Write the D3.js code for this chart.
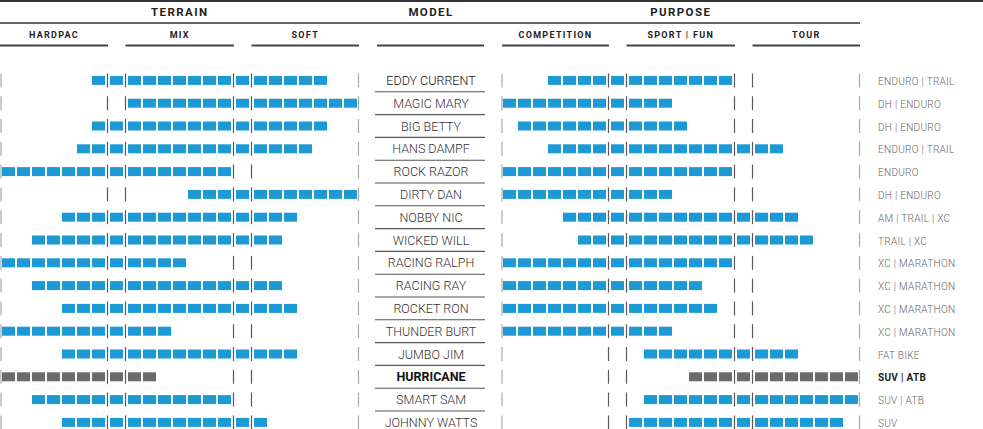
<!DOCTYPE html>
<html>
<head>
<meta charset="utf-8">
<script src="https://cdn.jsdelivr.net/npm/d3@7"></script>
<style>
  html, body { margin: 0; padding: 0; background: #fff; }
  svg { display: block; }
</style>
</head>
<body>
<svg id="chart" width="983" height="429"></svg>
<script>
// ---------------- DATA ----------------
const models = ["EDDY CURRENT","MAGIC MARY","BIG BETTY","HANS DAMPF","ROCK RAZOR","DIRTY DAN",
  "NOBBY NIC","WICKED WILL","RACING RALPH","RACING RAY","ROCKET RON","THUNDER BURT",
  "JUMBO JIM","HURRICANE","SMART SAM","JOHNNY WATTS"];
// slot indices 0..22 : 7 slots group A, 1 transition, 7 slots group B, 1 transition, 7 slots group C
const terrainStart = [6, 8, 6, 5, 0, 12, 4, 2, 0, 2, 4, 0, 4, 0, 2, 4];
const terrainEnd   = [20,22,20,19,14,22, 18,17,11,17,18,10,18, 9,14,16];
const purposeStart = [3, 0, 1, 3, 0, 0, 4, 5, 0, 0, 0, 0, 9,12, 9, 8];
const purposeEnd   = [14,10,11,17,14,10,18,19,14,12,13,10,18,22,22,21];
const usage = ["ENDURO | TRAIL","DH | ENDURO","DH | ENDURO","ENDURO | TRAIL","ENDURO","DH | ENDURO",
  "AM | TRAIL | XC","TRAIL | XC","XC | MARATHON","XC | MARATHON","XC | MARATHON","XC | MARATHON",
  "FAT BIKE","SUV | ATB","SUV | ATB","SUV"];
const highlighted = "HURRICANE";
const terrainTitle = "TERRAIN", modelTitle = "MODEL", purposeTitle = "PURPOSE";
const terrainGroups = ["HARDPAC","MIX","SOFT"];
const purposeGroups = ["COMPETITION","SPORT | FUN","TOUR"];

// ---------------- LAYOUT ----------------
const W = 983, H = 429;
const svg = d3.select("#chart");
const BLUE = "#1d9ad6", GREY = "#6b6b6b";
const FONT = "Roboto, 'Noto Sans', sans-serif";

const NSLOTS = 23, PITCH = 15, GAP = 3, BW = 13, BH = 9;
const sepAfter = [6, 7, 14, 15];
function unitPos(i) { return i * PITCH + GAP * sepAfter.filter(s => s < i).length; }
const unitsTotal = unitPos(NSLOTS - 1) + BW;

const y = d3.scaleBand().domain(models).range([69.0, 69.0 + 22.8 * models.length]);
const yc = m => y(m) + y.bandwidth() / 2;

function makePanel(x0, starts, ends) {
  const x = d3.scaleLinear().domain([0, unitsTotal]).range([x0, x0 + unitsTotal]);
  const slotX = i => x(unitPos(i));
  const seps = [x(0) - 1]
    .concat(sepAfter.map(s => (slotX(s) + BW + slotX(s + 1)) / 2))
    .concat([x(unitsTotal) + 1.5]);
  return { x, slotX, seps, starts, ends };
}
const terrain = makePanel(2, terrainStart, terrainEnd);
const purpose = makePanel(503, purposeStart, purposeEnd);

// ---------------- HEADER ----------------
svg.append("line").attr("x1", 0).attr("x2", W).attr("y1", 1).attr("y2", 1)
  .attr("stroke", "#333").attr("stroke-width", 2);
svg.append("line").attr("x1", 0).attr("x2", purpose.seps[5] + 0.5).attr("y1", 23).attr("y2", 23)
  .attr("stroke", "#333").attr("stroke-width", 1.6);

function title(txt, cx, cy, size, spacing) {
  svg.append("text").attr("x", cx).attr("y", cy)
    .attr("text-anchor", "middle").attr("dominant-baseline", "central")
    .attr("font-family", FONT).attr("font-weight", 700).attr("font-size", size)
    .attr("letter-spacing", spacing).attr("fill", "#222").text(txt);
}
title(terrainTitle, (terrain.seps[0] + terrain.seps[5]) / 2, 12, 11.5, 1.4);
title(modelTitle, 431, 12, 11.5, 1.4);
title(purposeTitle, (purpose.seps[0] + purpose.seps[5]) / 2, 12, 11.5, 1.4);

function subHeaders(panel, names) {
  const spans = [[0, 1], [2, 3], [4, 5]];
  names.forEach((n, k) => {
    const a = k === 0 && panel === terrain ? 0 : panel.seps[spans[k][0]];
    const b = panel.seps[spans[k][1]] + 0.5;
    svg.append("line").attr("x1", a).attr("x2", b).attr("y1", 45.5).attr("y2", 45.5)
      .attr("stroke", "#444").attr("stroke-width", 2);
    title(n, (a + b) / 2, 34.5, 9, 1.3);
  });
}
subHeaders(terrain, terrainGroups);
subHeaders(purpose, purposeGroups);
svg.append("line").attr("x1", 377).attr("x2", 484).attr("y1", 45.5).attr("y2", 45.5)
  .attr("stroke", "#444").attr("stroke-width", 2);

// ---------------- ROWS ----------------
function drawPanel(panel, cls) {
  const g = svg.append("g").attr("class", cls);
  models.forEach((m, r) => {
    const cy = yc(m);
    const slots = d3.range(panel.starts[r], panel.ends[r] + 1);
    g.selectAll(null).data(slots).join("rect")
      .attr("x", i => panel.slotX(i)).attr("y", cy - BH / 2)
      .attr("width", BW).attr("height", BH)
      .attr("fill", m === highlighted ? GREY : BLUE);
    g.selectAll(null).data(panel.seps).join("line")
      .attr("x1", d => d).attr("x2", d => d)
      .attr("y1", cy - 7).attr("y2", cy + 7)
      .attr("stroke", (d, k) => (k === 0 || k === 5) ? "#a8a8a8" : "#5a5a5a")
      .attr("stroke-width", 1.2);
  });
}
drawPanel(terrain, "terrain");
drawPanel(purpose, "purpose");

// model labels
const mg = svg.append("g");
models.forEach(m => {
  mg.append("text").attr("x", 431).attr("y", yc(m))
    .attr("text-anchor", "middle").attr("dominant-baseline", "central")
    .attr("font-family", FONT).attr("font-size", 12.5)
    .attr("font-weight", m === highlighted ? 700 : 300)
    .attr("fill", m === highlighted ? "#111" : (m === models[0] ? "#111" : "#333"))
    .text(m);
  mg.append("line").attr("x1", 375).attr("x2", 485)
    .attr("y1", yc(m) + 11.4).attr("y2", yc(m) + 11.4)
    .attr("stroke", "#555").attr("stroke-width", 1.1);
});

// usage labels
const ug = svg.append("g");
models.forEach((m, r) => {
  ug.append("text").attr("x", 878).attr("y", yc(m) + 1)
    .attr("dominant-baseline", "central")
    .attr("font-family", FONT).attr("font-size", 10)
    .attr("letter-spacing", 0.3)
    .attr("font-weight", m === highlighted ? 700 : 300)
    .attr("fill", m === highlighted ? "#222" : "#666")
    .text(usage[r]);
});
</script>
</body>
</html>
